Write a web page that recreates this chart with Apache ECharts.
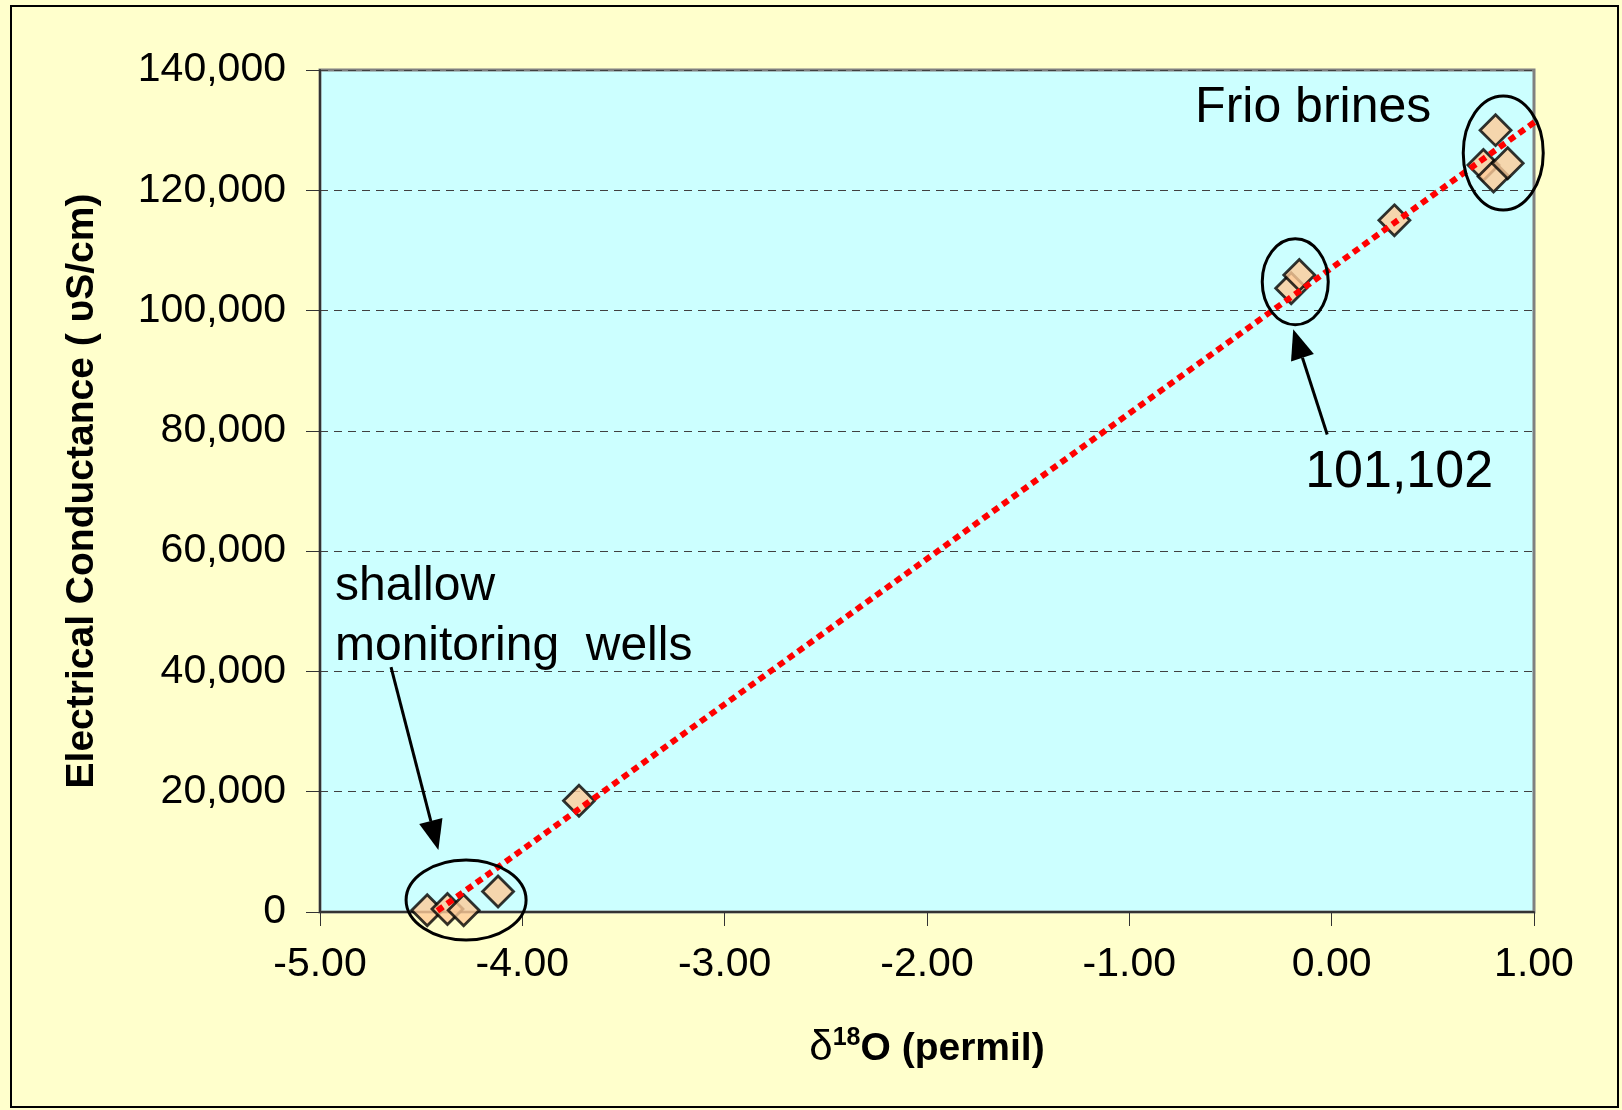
<!DOCTYPE html>
<html>
<head>
<meta charset="utf-8">
<script src="https://cdn.jsdelivr.net/npm/echarts@6/dist/echarts.min.js"></script>
<style>
html,body{margin:0;padding:0;background:#FFFFCC;}
#chart{width:1622px;height:1110px;}
</style>
</head>
<body>
<div id="chart"></div>
<script>
// delta 18O (permil) vs electrical conductance
var d18O = [-4.47, -4.37, -4.29, -4.12, -3.72, -0.20, -0.16, 0.31, 0.75, 0.80, 0.87, 0.81];
var ec   = [300, 500, 300, 3400, 18500, 103700, 105900, 115000, 124200, 122300, 124500, 130000];

// linear trend line end points
var trendX = [-4.42, 1.03];
var trendY = [200, 132000];

var xTicks = {min: -5, max: 1, step: 1};
var yTicks = {min: 0, max: 140000, step: 20000};

var FONT = '"Liberation Sans", Arial, Helvetica, sans-serif';

var myChart = echarts.init(document.getElementById('chart'));

var points = d18O.map(function (x, i) { return [x, ec[i]]; });
var trend = trendX.map(function (x, i) { return [x, trendY[i]]; });

var option = {
    backgroundColor: '#FFFFCC',
    animation: false,
    grid: {
        left: 320, right: 88, top: 70, bottom: 198,
        show: true,
        backgroundColor: '#CCFFFF',
        borderColor: '#808080',
        borderWidth: 3
    },
    xAxis: {
        type: 'value',
        min: xTicks.min, max: xTicks.max, interval: xTicks.step,
        name: '{d|δ}{s|18}{b|O (permil)}',
        nameLocation: 'middle',
        nameGap: 114,
        nameTextStyle: {
            rich: {
                d: {fontFamily: FONT, fontSize: 42, color: '#000', verticalAlign: 'bottom'},
                s: {fontFamily: FONT, fontSize: 25, fontWeight: 'bold', color: '#000', verticalAlign: 'top', padding: [0, 0, 18, 0]},
                b: {fontFamily: FONT, fontSize: 39, fontWeight: 'bold', color: '#000', verticalAlign: 'bottom'}
            }
        },
        axisLine: {show: true, onZero: false, lineStyle: {color: '#333', width: 2}},
        axisTick: {show: true, length: 14, lineStyle: {color: '#333', width: 1}},
        axisLabel: {
            margin: 32,
            fontFamily: FONT, fontSize: 41, color: '#000',
            formatter: function (v) { return v.toFixed(2); }
        },
        splitLine: {show: false}
    },
    yAxis: {
        type: 'value',
        min: yTicks.min, max: yTicks.max, interval: yTicks.step,
        name: 'Electrical Conductance ( υS/cm)',
        nameLocation: 'middle',
        nameRotate: 90,
        nameGap: 218,
        nameTextStyle: {fontFamily: FONT, fontSize: 39, fontWeight: 'bold', color: '#000'},
        axisLine: {show: true, onZero: false, lineStyle: {color: '#333', width: 2}},
        axisTick: {show: true, length: 14, lineStyle: {color: '#333', width: 1}},
        axisLabel: {
            margin: 34,
            fontFamily: FONT, fontSize: 41, color: '#000',
            formatter: function (v) { return v.toLocaleString('en-US'); }
        },
        splitLine: {show: true, lineStyle: {color: '#404040', width: 1, type: [8, 6]}}
    },
    series: [
        {
            name: 'samples',
            type: 'scatter',
            symbol: 'diamond',
            symbolSize: 31,
            itemStyle: {color: '#FFCC99', borderColor: '#000', borderWidth: 2.8},
            data: points,
            z: 3
        },
        {
            name: 'trend',
            type: 'line',
            data: trend,
            symbol: 'none',
            clip: false,
            lineStyle: {color: '#FF0000', width: 6, type: [7, 5], cap: 'butt'},
            z: 4
        }
    ]
};
myChart.setOption(option);

// annotations, placed in data space
var ellipses = [
    {c: [-4.278, 2000], rx: 60, ry: 40},
    {c: [-0.180, 104800], rx: 33, ry: 43},
    {c: [0.848, 126200], rx: 40, ry: 57}
];
var arrows = [
    {from: [-4.649, 40700], to: [-4.415, 10300]},
    {from: [-0.022, 79400], to: [-0.190, 96900]}
];
var labels = [
    {at: [-4.926, 54000], text: 'shallow', size: 48},
    {at: [-4.926, 44100], text: 'monitoring  wells', size: 48},
    {at: [-0.131, 73000], text: '101,102', size: 52},
    {at: [-0.675, 133700], text: 'Frio brines', size: 50}
];

function px(p) { return myChart.convertToPixel({gridIndex: 0}, p); }

var g = [];
g.push({
    type: 'rect', z: 1, silent: true,
    shape: {x: 11, y: 6, width: 1607, height: 1101},
    style: {fill: 'none', stroke: '#000', lineWidth: 2}
});
ellipses.forEach(function (e) {
    var c = px(e.c);
    g.push({
        type: 'ellipse', z: 100,
        shape: {cx: c[0], cy: c[1], rx: e.rx, ry: e.ry},
        style: {fill: 'none', stroke: '#000', lineWidth: 3}
    });
});
arrows.forEach(function (a) {
    var p0 = px(a.from), p1 = px(a.to);
    var dx = p1[0] - p0[0], dy = p1[1] - p0[1];
    var len = Math.sqrt(dx * dx + dy * dy);
    var ux = dx / len, uy = dy / len;
    var head = 30, half = 12;
    var bx = p1[0] - ux * head, by = p1[1] - uy * head;
    g.push({
        type: 'line', z: 100,
        shape: {x1: p0[0], y1: p0[1], x2: bx, y2: by},
        style: {stroke: '#000', lineWidth: 3}
    });
    g.push({
        type: 'polygon', z: 100,
        shape: {points: [[p1[0], p1[1]], [bx - uy * half, by + ux * half], [bx + uy * half, by - ux * half]]},
        style: {fill: '#000'}
    });
});
labels.forEach(function (l) {
    var p = px(l.at);
    g.push({
        type: 'text', z: 100,
        style: {
            text: l.text, x: p[0], y: p[1],
            font: l.size + 'px ' + FONT,
            fill: '#000',
            textAlign: 'left', textVerticalAlign: 'middle'
        }
    });
});
myChart.setOption({graphic: g});
</script>
</body>
</html>
